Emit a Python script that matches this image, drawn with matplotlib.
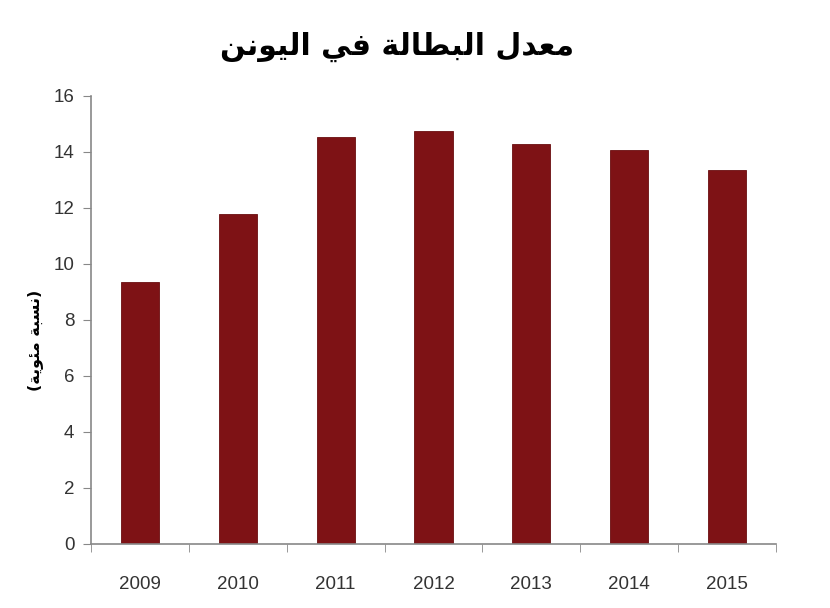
import matplotlib
matplotlib.use("Agg")
import matplotlib.pyplot as plt
import numpy as np

years = ["2009", "2010", "2011", "2012", "2013", "2014", "2015"]
values = [9.35, 11.8, 14.55, 14.75, 14.3, 14.07, 13.37]
yticks = [0, 2, 4, 6, 8, 10, 12, 14, 16]
title_text = "معدل البطالة في اليونن"
ylabel_text = "(نسبة مئوية)"

# --- minimal Arabic shaping (matplotlib has no complex text layout) ---
FORMS = {
    'ا': ('\uFE8D', '\uFE8E', None, None),
    'ب': ('\uFE8F', '\uFE90', '\uFE91', '\uFE92'),
    'ة': ('\uFE93', '\uFE94', None, None),
    'د': ('\uFEA9', '\uFEAA', None, None),
    'س': ('\uFEB1', '\uFEB2', '\uFEB3', '\uFEB4'),
    'ط': ('\uFEC1', '\uFEC2', '\uFEC3', '\uFEC4'),
    'ع': ('\uFEC9', '\uFECA', '\uFECB', '\uFECC'),
    'ف': ('\uFED1', '\uFED2', '\uFED3', '\uFED4'),
    'ل': ('\uFEDD', '\uFEDE', '\uFEDF', '\uFEE0'),
    'م': ('\uFEE1', '\uFEE2', '\uFEE3', '\uFEE4'),
    'ن': ('\uFEE5', '\uFEE6', '\uFEE7', '\uFEE8'),
    'و': ('\uFEED', '\uFEEE', None, None),
    'ي': ('\uFEF1', '\uFEF2', '\uFEF3', '\uFEF4'),
    'ئ': ('\uFE89', '\uFE8A', '\uFE8B', '\uFE8C'),
}


def dual(c):
    return c in FORMS and FORMS[c][2] is not None


def shape(text):
    out = []
    n = len(text)
    for i, c in enumerate(text):
        if c not in FORMS:
            out.append(c)
            continue
        prev = text[i - 1] if i > 0 else ''
        nxt = text[i + 1] if i < n - 1 else ''
        jp = dual(prev)
        jn = dual(c) and nxt in FORMS
        f = FORMS[c]
        if jp and jn:
            out.append(f[3])
        elif jp:
            out.append(f[1])
        elif jn:
            out.append(f[2])
        else:
            out.append(f[0])
    vis = ''.join(reversed(out))
    swap = {'(': ')', ')': '('}
    return ''.join(swap.get(ch, ch) for ch in vis)


fig = plt.figure(figsize=(8.3, 6.08), dpi=100)
ax = fig.add_axes([91 / 830, 64 / 608, 685 / 830, 448 / 608])

x = np.arange(len(years))
ax.bar(x, values, width=0.39, color="#7e1215", edgecolor="#6a0e10", linewidth=0.6)

ax.set_xlim(-0.5, len(years) - 0.5)
ax.set_ylim(0, 16)
ax.set_yticks(yticks)
ax.set_yticklabels([str(t) for t in yticks], fontsize=13.5, color="#333333",
                   family="Liberation Sans")
ax.set_xticks(x)
ax.set_xticklabels(years, fontsize=13.5, color="#333333", family="Liberation Sans")
ax.set_xticks(np.arange(-0.5, len(years), 1.0), minor=True)
ax.tick_params(axis='x', which='major', length=0, pad=23)
ax.tick_params(axis='x', which='minor', length=6, color="#888888", direction='out')
ax.tick_params(axis='y', length=6, color="#888888", direction='out', pad=6)

for s in ['top', 'right']:
    ax.spines[s].set_visible(False)
for s in ['left', 'bottom']:
    ax.spines[s].set_color("#888888")
    ax.spines[s].set_linewidth(1.2)

fig.text(397 / 830, 1 - 47 / 608, shape(title_text), ha='center', va='center',
         fontsize=21.5, fontweight='bold', family=['DejaVu Sans'], color='black')
fig.text(35 / 830, 1 - 340 / 608, shape(ylabel_text), ha='center', va='center',
         rotation=90, fontsize=11.5, fontweight='bold', family=['DejaVu Sans'],
         color='black')

fig.savefig("out.png", dpi=100, facecolor='white')
